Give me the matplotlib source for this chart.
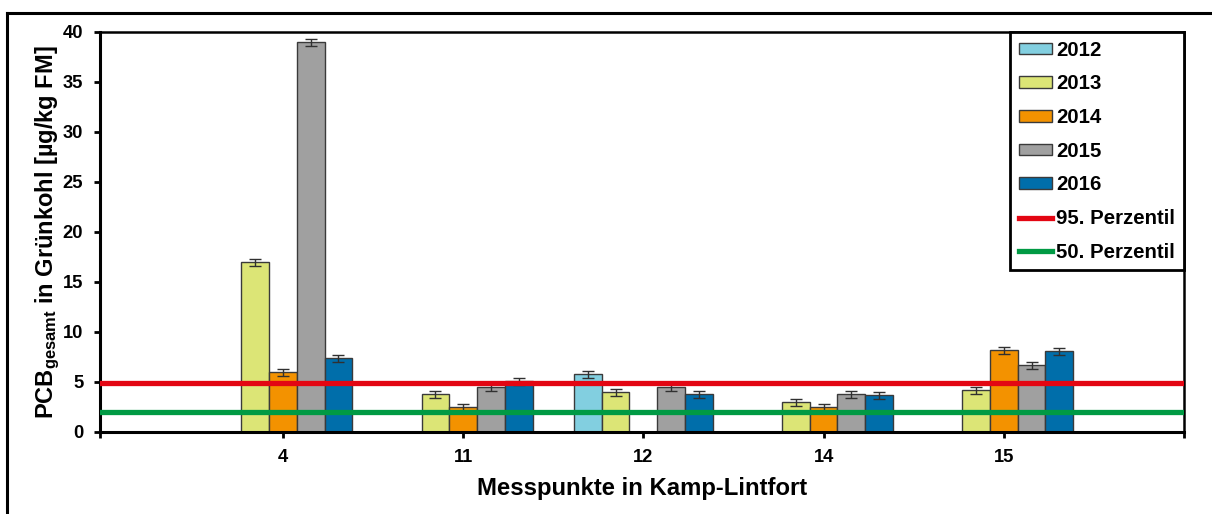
import numpy as np
import matplotlib
matplotlib.use("Agg")
from matplotlib import pyplot as plt
from matplotlib.lines import Line2D

plt.rcParams['font.family'] = ['Liberation Sans', 'DejaVu Sans']
plt.rcParams['font.weight'] = 'bold'
plt.rcParams['mathtext.fontset'] = 'custom'
plt.rcParams['mathtext.rm'] = 'Liberation Sans:bold'
plt.rcParams['mathtext.bf'] = 'Liberation Sans:bold'
plt.rcParams['mathtext.default'] = 'bf'

# data
points = ['4', '11', '12', '14', '15']
years = ['2012', '2013', '2014', '2015', '2016']
v2012 = [np.nan, np.nan, 5.8, np.nan, np.nan]
v2013 = [17.0, 3.8, 4.0, 3.0, 4.2]
v2014 = [6.0, 2.5, np.nan, 2.5, 8.2]
v2015 = [39.0, 4.5, 4.5, 3.8, 6.7]
v2016 = [7.4, 5.1, 3.8, 3.7, 8.1]
err = [0.35, 0.35, 0.35, 0.35, 0.35]
p95 = 4.9
p50 = 2.0

series = [v2012, v2013, v2014, v2015, v2016]
colors = ['#82CFE0', '#DCE576', '#F39200', '#A0A0A0', '#006EAA']

fig = plt.figure(figsize=(12.12, 5.14), dpi=100)
ax = fig.add_axes([100/1212, 82/514, 1084/1212, 400/514])

x = np.arange(len(points))
w = 0.154
handles = []
for k, (vals, col, yr) in enumerate(zip(series, colors, years)):
    pos = x + (k - 2) * w
    vals = np.array(vals, dtype=float)
    b = ax.bar(pos, vals, w, color=col, edgecolor='#3a3a3a', linewidth=1.0,
               label=yr, zorder=2)
    handles.append(b)
    ok = ~np.isnan(vals)
    ax.errorbar(pos[ok], vals[ok], yerr=np.array(err)[ok], fmt='none',
                ecolor='#303030', elinewidth=1.0, capsize=4, capthick=1.0,
                zorder=3)

l95 = ax.axhline(p95, color='#E30613', linewidth=3.8, label='95. Perzentil', zorder=4)
l50 = ax.axhline(p50, color='#009A44', linewidth=3.8, label='50. Perzentil', zorder=4)
handles += [l95, l50]

ax.set_xlim(-1.015, 5.0)
ax.set_ylim(0, 40)
ax.set_yticks(range(0, 41, 5))
ax.set_xticks(x)
ax.set_xticklabels(points)
ax.set_xticks([-1.015, 5.0], minor=True)
ax.tick_params(axis='both', which='both', direction='out', length=4,
               width=2, labelsize=13.2)
ax.tick_params(axis='y', pad=8)
ax.tick_params(axis='x', pad=8)

for s in ['left', 'bottom']:
    ax.spines[s].set_linewidth(2.2)
for s in ['top', 'right']:
    ax.spines[s].set_linewidth(1.8)

ax.set_xlabel('Messpunkte in Kamp-Lintfort', fontsize=17.2, fontweight='bold',
              labelpad=8)
ax.set_ylabel('PCB$_{gesamt}$ in Grünkohl [µg/kg FM]', fontsize=17,
              fontweight='bold')
ax.yaxis.set_label_coords(-0.035, 0.5)

leg = ax.legend(handles=handles, labels=[h.get_label() for h in handles],
                loc='upper right', bbox_to_anchor=(1.0, 1.0), borderaxespad=0,
                fancybox=False, edgecolor='black', framealpha=1,
                prop={'size': 14.7, 'weight': 'bold'}, handlelength=1.65,
                handleheight=0.5, handletextpad=0.2, labelspacing=0.72,
                borderpad=0.42)
leg.get_frame().set_linewidth(2.0)

# outer frame
fig.add_artist(Line2D([7/1212, 7/1212], [-0.05, 1 - 13/514], color='black',
                      linewidth=2.2, transform=fig.transFigure))
fig.add_artist(Line2D([7/1212, 1.05], [1 - 13/514, 1 - 13/514], color='black',
                      linewidth=2.2, transform=fig.transFigure))

fig.savefig('out.png', dpi=100)
